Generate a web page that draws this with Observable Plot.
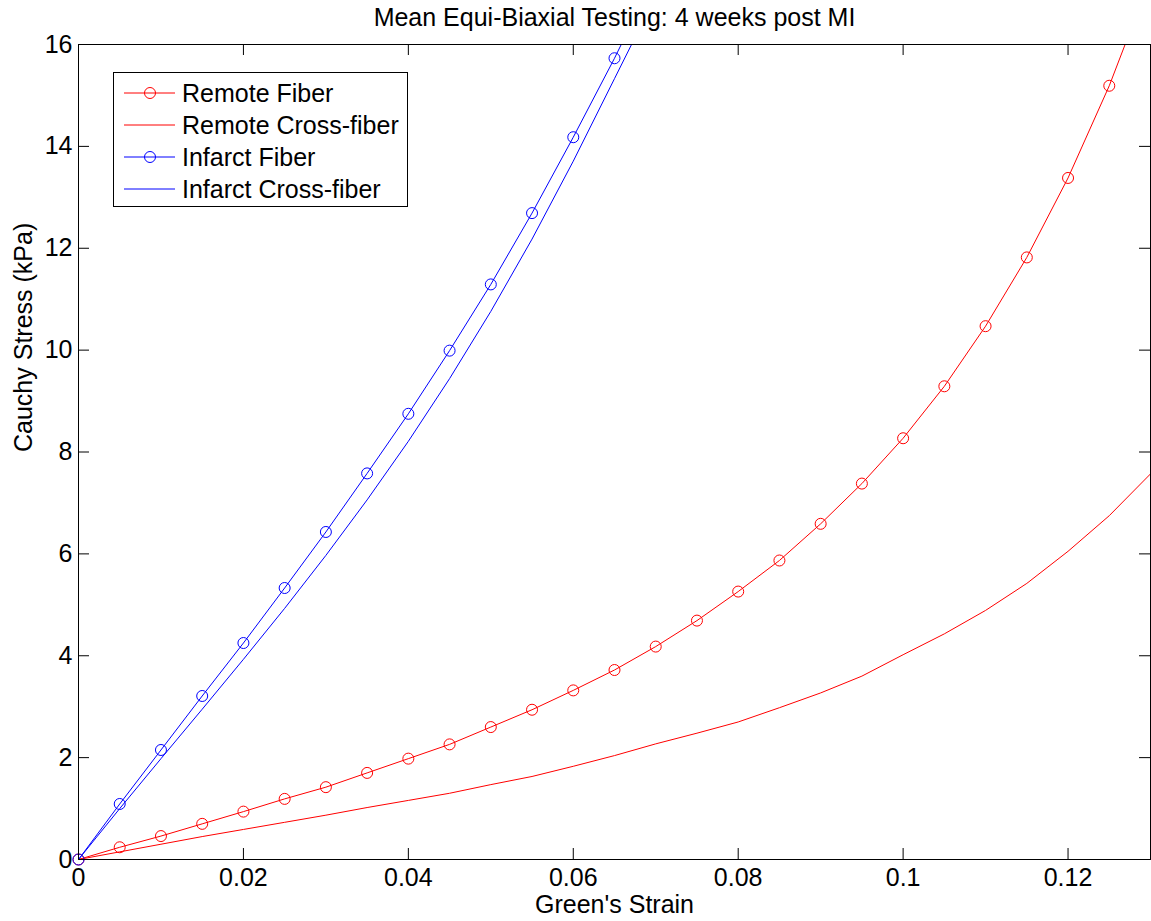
<!DOCTYPE html>
<html>
<head>
<meta charset="utf-8">
<script src="https://cdn.jsdelivr.net/npm/d3@7"></script>
<script src="https://cdn.jsdelivr.net/npm/@observablehq/plot@0.6"></script>
<style>
  html, body { margin: 0; padding: 0; background: #fff; }
  #wrap { position: relative; width: 1151px; height: 921px; font-family: "Liberation Sans", Arial, sans-serif; }
  #legend { position: absolute; left: 113px; top: 72px; width: 295px; height: 135px; border: 1px solid #000; background: #fff; box-sizing: border-box; }
  .row { position: absolute; left: 0; height: 32px; display: flex; align-items: center; }
  .row span { font-size: 25px; color: #000; margin-left: 7px; white-space: nowrap; }
</style>
</head>
<body>
<div id="wrap"><div id="chart"></div><div id="legend"></div></div>
<script>
// ---- Data ----
const strainRemote = [0, 0.005, 0.01, 0.015, 0.02, 0.025, 0.03, 0.035, 0.04, 0.045, 0.05, 0.055, 0.06, 0.065, 0.07, 0.075, 0.08, 0.085, 0.09, 0.095, 0.1, 0.105, 0.11, 0.115, 0.12, 0.125, 0.13];
const remoteFiber = [0, 0.24, 0.46, 0.70, 0.94, 1.19, 1.42, 1.70, 1.98, 2.26, 2.60, 2.94, 3.32, 3.72, 4.18, 4.69, 5.26, 5.87, 6.59, 7.38, 8.27, 9.29, 10.47, 11.82, 13.38, 15.19, 17.30];
const remoteCross = [0, 0.15, 0.30, 0.45, 0.59, 0.73, 0.87, 1.02, 1.16, 1.30, 1.47, 1.63, 1.83, 2.04, 2.27, 2.48, 2.70, 2.98, 3.27, 3.60, 4.02, 4.43, 4.89, 5.42, 6.05, 6.75, 7.57];
const strainInfarct = [0, 0.005, 0.01, 0.015, 0.02, 0.025, 0.03, 0.035, 0.04, 0.045, 0.05, 0.055, 0.06, 0.065, 0.07];
const infarctFiber = [0, 1.09, 2.15, 3.21, 4.25, 5.33, 6.43, 7.58, 8.75, 9.99, 11.29, 12.69, 14.18, 15.73, 17.38];
const infarctCross = [0, 1.00, 1.98, 2.95, 3.93, 4.93, 5.97, 7.06, 8.21, 9.44, 10.76, 12.18, 13.71, 15.33, 16.95];
const xTicks = [0, 0.02, 0.04, 0.06, 0.08, 0.1, 0.12];
const yTicks = [0, 2, 4, 6, 8, 10, 12, 14, 16];
const seriesNames = ["Remote Fiber", "Remote Cross-fiber", "Infarct Fiber", "Infarct Cross-fiber"];
const seriesColors = ["#ff0000", "#ff0000", "#0000ff", "#0000ff"];
const seriesMarkers = [true, false, true, false];
const titleText = "Mean Equi-Biaxial Testing: 4 weeks post MI";
const xLabel = "Green's Strain";
const yLabel = "Cauchy Stress (kPa)";

const toRows = (xs, ys) => xs.map((x, i) => ({x, y: ys[i]}));
const series = [
  toRows(strainRemote, remoteFiber),
  toRows(strainRemote, remoteCross),
  toRows(strainInfarct, infarctFiber),
  toRows(strainInfarct, infarctCross)
];

const fmt = d => d === 0 ? "0" : String(+d.toFixed(2));

const marks = [];
series.forEach((rows, i) => {
  marks.push(Plot.line(rows, {x: "x", y: "y", stroke: seriesColors[i], strokeWidth: 1, clip: true}));
  if (seriesMarkers[i]) {
    marks.push(Plot.dot(rows.filter(d => d.y <= 16), {x: "x", y: "y", r: 5.5, stroke: seriesColors[i], fill: "none", strokeWidth: 1}));
  }
});

const plot = Plot.plot({
  width: 1151,
  height: 921,
  marginLeft: 78,
  marginRight: 1,
  marginTop: 44,
  marginBottom: 62,
  style: {fontFamily: "'Liberation Sans', Arial, sans-serif", fontSize: "25px", color: "#000", background: "#fff"},
  x: {domain: [0, 0.13]},
  y: {domain: [0, 16]},
  marks: [
    Plot.axisX({ticks: xTicks, tickSize: 0, tickPadding: 9, tickFormat: fmt, label: null, fontSize: 25}),
    Plot.axisY({ticks: yTicks, tickSize: 0, tickPadding: 6, tickFormat: fmt, label: null, fontSize: 25}),
    Plot.tickX(xTicks, {x: d => d, insetTop: 804, stroke: "#000", strokeWidth: 1}),
    Plot.tickX(xTicks, {x: d => d, insetBottom: 804, stroke: "#000", strokeWidth: 1}),
    Plot.tickY(yTicks, {y: d => d, insetRight: 1061, stroke: "#000", strokeWidth: 1}),
    Plot.tickY(yTicks, {y: d => d, insetLeft: 1061, stroke: "#000", strokeWidth: 1}),
    ...marks,
    Plot.frame({stroke: "#000", strokeWidth: 1}),
    Plot.text([titleText], {frameAnchor: "top", lineAnchor: "top", dy: -36, text: d => d, fontSize: 25, fill: "#000"}),
    Plot.text([xLabel], {frameAnchor: "bottom", lineAnchor: "top", dy: 36, text: d => d, fontSize: 25, fill: "#000"}),
    Plot.text([yLabel], {frameAnchor: "left", rotate: -90, dx: -55, text: d => d, fontSize: 25, fill: "#000"})
  ]
});
document.getElementById("chart").appendChild(plot);

// ---- Legend (overlay inside the axes, like the original) ----
const legend = document.getElementById("legend");
seriesNames.forEach((name, i) => {
  const row = document.createElement("div");
  row.className = "row";
  row.style.top = (4 + i * 32) + "px";
  const ns = "http://www.w3.org/2000/svg";
  const svg = document.createElementNS(ns, "svg");
  svg.setAttribute("width", "61"); svg.setAttribute("height", "32");
  const line = document.createElementNS(ns, "line");
  line.setAttribute("x1", "10"); line.setAttribute("x2", "61");
  line.setAttribute("y1", "16"); line.setAttribute("y2", "16");
  line.setAttribute("stroke", seriesColors[i]); line.setAttribute("stroke-width", "1");
  svg.appendChild(line);
  if (seriesMarkers[i]) {
    const c = document.createElementNS(ns, "circle");
    c.setAttribute("cx", "36"); c.setAttribute("cy", "16"); c.setAttribute("r", "5.5");
    c.setAttribute("fill", "none"); c.setAttribute("stroke", seriesColors[i]);
    svg.appendChild(c);
  }
  row.appendChild(svg);
  const span = document.createElement("span");
  span.textContent = name;
  row.appendChild(span);
  legend.appendChild(row);
});
</script>
</body>
</html>
